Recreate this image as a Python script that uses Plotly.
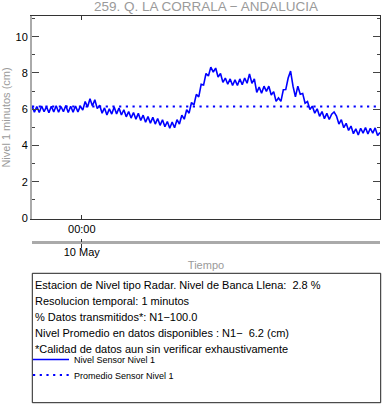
import pandas as pd
import plotly.graph_objects as go

# ---------------- data ----------------
title_text = "259. Q. LA CORRALA \u2212 ANDALUCIA"
start_time = "2024-05-09 20:34"
step = "10min"
nivel_values = [
    6.17, 5.84, 6.15, 5.82, 6.18, 5.86, 6.14, 5.80, 6.16, 5.85,
    6.19, 5.83, 6.15, 5.86, 6.20, 5.82, 6.16, 5.84, 6.18, 5.85,
    6.17, 5.95, 6.42, 6.12, 6.58, 6.18, 6.52, 6.03, 6.22, 5.78,
    6.07, 5.68, 6.02, 5.73, 6.12, 5.74, 6.07, 5.68, 5.97, 5.58,
    5.87, 5.51, 5.82, 5.45, 5.77, 5.38, 5.67, 5.28, 5.59, 5.23,
    5.55, 5.18, 5.49, 5.11, 5.42, 5.03, 5.32, 4.95, 5.29, 4.98,
    5.42, 5.18, 5.67, 5.45, 5.97, 5.78, 6.37, 6.23, 6.82, 6.68,
    7.37, 7.33, 7.97, 7.83, 8.32, 8.05, 8.27, 7.78, 7.97, 7.48,
    7.72, 7.38, 7.67, 7.31, 7.62, 7.31, 7.67, 7.35, 7.72, 7.43,
    7.95, 7.43, 7.67, 6.93, 7.22, 6.88, 7.27, 6.98, 7.27, 6.78,
    6.97, 6.43, 6.62, 6.43, 7.07, 7.08, 7.72, 8.10, 7.27, 6.68,
    7.27, 6.83, 6.87, 6.33, 6.42, 5.98, 6.17, 5.78, 6.02, 5.61,
    5.87, 5.48, 5.77, 5.43, 5.72, 5.85, 5.62, 5.18, 5.42, 4.98,
    5.22, 4.83, 5.07, 4.65, 4.92, 4.58, 4.95, 4.68, 4.99, 4.63,
    4.95, 4.68, 4.97, 4.55, 4.72,
]
promedio_value = 6.15
midnight = "2024-05-10 00:00"
x_tick_top = ["00:00"]
x_tick_bottom = ["10 May"]
y_ticks = [0, 2, 4, 6, 8, 10]
info_lines = [
    "Estacion de Nivel tipo Radar. Nivel de Banca Llena:  2.8 %",
    "Resolucion temporal: 1 minutos",
    "% Datos transmitidos*: N1\u2212100.0",
    "Nivel Promedio en datos disponibles : N1\u2212  6.2 (cm)",
    "*Calidad de datos aun sin verificar exhaustivamente",
]
series_names = ["Nivel Sensor Nivel 1", "Promedio Sensor Nivel 1"]

# ---------------- build ----------------
times = pd.date_range(start=start_time, periods=len(nivel_values), freq=step)
x_range = [times[0], times[-1]]
y_range = [-0.055, 11.14]

W, H = 382, 404
ML, MR, MT, MB = 32, 2, 16, 162
paper_w = W - ML - MR
paper_h = H - MT - MB
paper_bottom_px = H - MB  # 242


def px_x(p):
    return (p - ML) / paper_w


def px_y(p):
    return (paper_bottom_px - p) / paper_h


FONT = "Liberation Sans, Arial, Helvetica, sans-serif"
GRAY = "#9a9a9a"
BLUE = "#0000ff"

fig = go.Figure()
fig.add_trace(go.Scatter(
    x=times, y=nivel_values, mode="lines", name=series_names[0],
    line=dict(color=BLUE, width=1.6), legend="legend",
))
fig.add_trace(go.Scatter(
    x=[times[0], times[-1]], y=[promedio_value, promedio_value],
    mode="lines", name=series_names[1],
    line=dict(color=BLUE, width=2.2, dash="2.2px,4.5px"), legend="legend2",
))
# invisible helpers so the overlay axes get drawn
for xa, ya in (("x2", "y"), ("x3", "y"), ("x", "y2")):
    fig.add_trace(go.Scatter(x=x_range, y=[None, None], xaxis=xa, yaxis=ya,
                             mode="lines", showlegend=False, hoverinfo="skip"))

plot_bottom_px = 219
ydom0 = (paper_bottom_px - plot_bottom_px) / paper_h

fig.update_layout(
    width=W, height=H, autosize=False,
    margin=dict(l=ML, r=MR, t=MT, b=MB, pad=0, autoexpand=False),
    paper_bgcolor="white", plot_bgcolor="white",
    font=dict(family=FONT, size=11, color="black"),
    title=dict(text=title_text, font=dict(size=13.5, color=GRAY, family=FONT),
               x=px_x(206), xref="paper", xanchor="center",
               y=1 - 6.5 / H, yref="container", yanchor="middle"),
    xaxis=dict(
        type="date", range=x_range, showgrid=False, zeroline=False,
        showline=True, linecolor="#333", linewidth=1, mirror="ticks",
        ticks="inside", ticklen=4, tickcolor="#333", tickwidth=1,
        tickvals=[midnight], ticktext=x_tick_top,
        tickfont=dict(size=11, color="black"), automargin=False,
    ),
    xaxis2=dict(
        type="date", range=x_range, overlaying="x", anchor="free", position=0,
        side="bottom", showgrid=False, zeroline=False,
        showline=True, linecolor="#aaaaaa", linewidth=2.5,
        ticks="outside", ticklen=4, tickcolor="#333", tickwidth=1,
        tickvals=[midnight], ticktext=x_tick_bottom, ticklabelstandoff=-5,
        tickfont=dict(size=11, color="black"), automargin=False,
        title=dict(text="Tiempo", font=dict(size=11, color=GRAY), standoff=4),
    ),
    xaxis3=dict(
        type="date", range=x_range, overlaying="x", anchor="free", position=0,
        showgrid=False, zeroline=False, showline=False,
        ticks="inside", ticklen=3, tickcolor="#333", tickwidth=1,
        tickvals=[midnight], showticklabels=False, automargin=False,
    ),
    yaxis=dict(
        domain=[ydom0, 1], range=y_range, showgrid=False, zeroline=False,
        showline=True, linecolor="#aaaaaa", linewidth=2,
        ticks="inside", ticklen=7, tickcolor="#444", tickwidth=1,
        tickvals=y_ticks, tickfont=dict(size=11, color="black"), automargin=False,
        minor=dict(dtick=1, ticks="inside", ticklen=3, tickcolor="#444", tickwidth=1),
        title=dict(text="Nivel 1 minutos (cm)", font=dict(size=11, color=GRAY), standoff=6),
    ),
    yaxis2=dict(
        domain=[ydom0, 1], range=y_range, overlaying="y", side="right", anchor="x",
        showgrid=False, zeroline=False, automargin=False,
        showline=True, linecolor="#333", linewidth=1,
        ticks="inside", ticklen=7, tickcolor="#444", tickwidth=1,
        tickvals=y_ticks, showticklabels=False,
        minor=dict(dtick=1, ticks="inside", ticklen=3, tickcolor="#444", tickwidth=1),
    ),
    legend=dict(x=px_x(28), y=px_y(359.5), xanchor="left", yanchor="middle",
                bgcolor="rgba(0,0,0,0)", borderwidth=0, itemwidth=36,
                font=dict(size=9, color="black", family=FONT)),
    legend2=dict(x=px_x(28), y=px_y(375), xanchor="left", yanchor="middle",
                 bgcolor="rgba(0,0,0,0)", borderwidth=0, itemwidth=36,
                 font=dict(size=9, color="black", family=FONT)),
    showlegend=True,
)

# info box
fig.add_shape(type="rect", xref="paper", yref="paper",
              x0=px_x(32.3), x1=px_x(380.7), y0=px_y(273.3), y1=px_y(402.7),
              line=dict(color="#222", width=1), fillcolor="rgba(0,0,0,0)")
line_y = [285, 301, 317, 333, 348.8]
for txt, yy in zip(info_lines, line_y):
    fig.add_annotation(text=txt, xref="paper", yref="paper", x=px_x(34), y=px_y(yy),
                       xanchor="left", yanchor="middle", showarrow=False, borderpad=0,
                       font=dict(size=11, color="black", family=FONT))

fig.write_html(
    "out.html",
    config={"displayModeBar": False},
    post_script="document.body.style.margin='0';document.body.style.overflow='hidden';",
)
